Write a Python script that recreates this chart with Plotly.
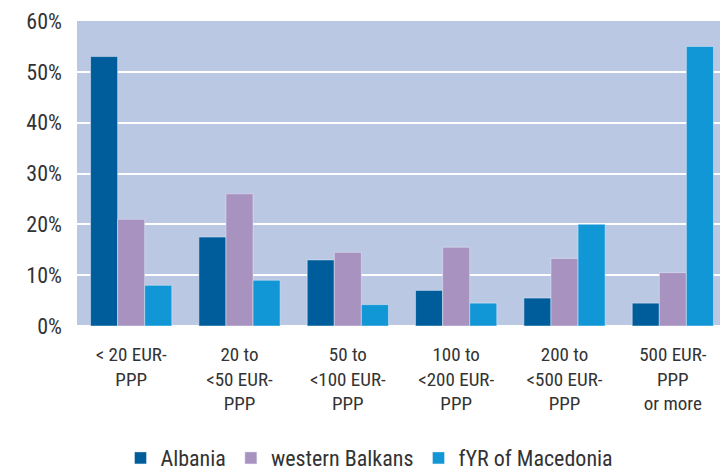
import plotly.graph_objects as go

categories = ["< 20 EUR-<br>PPP", "20 to<br><50 EUR-<br>PPP", "50 to<br><100 EUR-<br>PPP",
              "100 to<br><200 EUR-<br>PPP", "200 to<br><500 EUR-<br>PPP", "500 EUR-<br>PPP<br>or more"]
albania = [53, 17.5, 13, 7, 5.5, 4.5]
western_balkans = [21, 26, 14.5, 15.5, 13.3, 10.5]
macedonia = [8, 9, 4.2, 4.5, 20, 55]

FONT = "Liberation Sans Narrow, Roboto Condensed, Arial Narrow, Liberation Sans, sans-serif"

fig = go.Figure()
fig.add_bar(x=categories, y=albania, name="Albania", marker_color="#005D9C")
fig.add_bar(x=categories, y=western_balkans, name="western Balkans", marker_color="#A893C0")
fig.add_bar(x=categories, y=macedonia, name="fYR of Macedonia", marker_color="#1196D6")

fig.update_layout(
    width=720, height=464,
    margin=dict(l=69, r=1, t=13, b=146, autoexpand=False),
    barmode="group", bargap=0.25, bargroupgap=0,
    plot_bgcolor="#BAC8E4", paper_bgcolor="white",
    font=dict(family=FONT, size=19, color="#333333"),
    legend=dict(orientation="h", x=0.45, xanchor="center",
                yref="container", y=0.03, yanchor="middle",
                font=dict(size=22), itemwidth=30, traceorder="normal", tracegroupgap=0),
    showlegend=True,
)
fig.update_yaxes(range=[0, 60], dtick=10, ticksuffix="%", gridcolor="white", gridwidth=2,
                 zeroline=True, zerolinecolor="white", zerolinewidth=2, ticks="",
                 tickfont=dict(size=22), automargin=False, ticklabelstandoff=14)
fig.update_xaxes(tickfont=dict(size=19), ticks="", tickangle=0, automargin=False,
                 ticklabelstandoff=15)

fig.write_html("out.html")
